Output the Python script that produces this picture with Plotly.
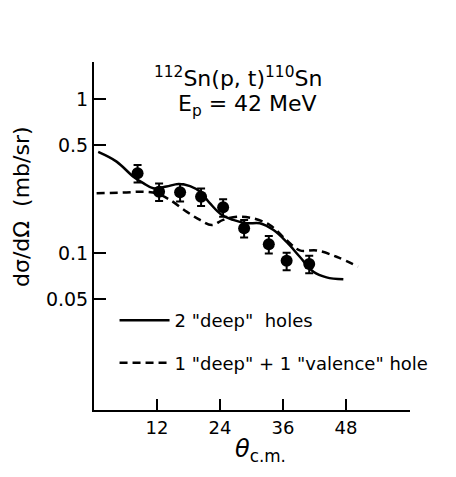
import plotly.graph_objects as go

# data points (theta c.m. in degrees, dsigma/dOmega in mb/sr)
exp_theta = [8.3, 12.4, 16.4, 20.4, 24.6, 28.6, 33.3, 36.7, 41.0]
exp_xs = [0.33, 0.25, 0.248, 0.232, 0.198, 0.145, 0.114, 0.089, 0.085]
exp_err_pct = 13

# solid curve: 2 "deep" holes
solid_theta = [0.8, 4.3, 7.5, 9.4, 11.3, 13.8, 16.1, 18.3, 20.2, 22.1, 24.3, 26.5,
               29.1, 31.6, 34.2, 36.7, 39.2, 41.8, 44.3, 47.5]
solid_xs = [0.453, 0.392, 0.313, 0.284, 0.263, 0.270, 0.281, 0.272, 0.250, 0.210, 0.177, 0.164,
            0.156, 0.156, 0.141, 0.118, 0.0946, 0.0756, 0.0695, 0.0675]

# dashed curve: 1 "deep" + 1 "valence" hole
dash_theta = [0.5, 5.6, 9.4, 11.9, 14.5, 17.7, 20.2, 22.4, 24.6, 27.2, 30.3, 33.5,
              36.7, 39.2, 42.4, 46.2, 50.3]
dash_xs = [0.244, 0.247, 0.250, 0.244, 0.221, 0.185, 0.164, 0.152, 0.164, 0.172, 0.168, 0.152,
           0.121, 0.104, 0.104, 0.0946, 0.0815]

x_ticks = [12, 24, 36, 48]
y_ticks = [1, 0.5, 0.1, 0.05]
y_ticktext = ["1", "0.5", "0.1", "0.05"]

FONT = "DejaVu Sans"

fig = go.Figure()
fig.add_trace(go.Scatter(
    x=solid_theta, y=solid_xs, mode="lines", line=dict(color="black", width=2.5, shape="spline"),
    name='2 "deep"  holes', legendgroup="a"))
fig.add_trace(go.Scatter(
    x=dash_theta, y=dash_xs, mode="lines",
    line=dict(color="black", width=2.5, dash="8px,5px", shape="spline"),
    name='1 "deep" + 1 "valence" hole', legendgroup="b"))
fig.add_trace(go.Scatter(
    x=exp_theta, y=exp_xs, mode="markers",
    marker=dict(color="black", size=12),
    error_y=dict(type="percent", value=exp_err_pct, color="black", thickness=2, width=4),
    showlegend=False))

fig.update_layout(
    width=456, height=477,
    margin=dict(l=94, r=46, t=62, b=67),
    paper_bgcolor="white", plot_bgcolor="white",
    font=dict(family=FONT, color="black", size=18),
    showlegend=True,
    legend=dict(x=0.065, y=0.31, xanchor="left", yanchor="top", bgcolor="rgba(0,0,0,0)",
                font=dict(size=18, family=FONT), tracegroupgap=16, itemwidth=50),
    xaxis=dict(range=[0, 60.2], showline=True, linecolor="black", linewidth=2,
               ticks="inside", ticklen=11, tickwidth=2, tickcolor="black",
               tickvals=x_ticks, showgrid=False, zeroline=False,
               tickfont=dict(size=18, family=FONT)),
    yaxis=dict(type="log", range=[-2.019, 0.240], showline=True, linecolor="black", linewidth=2,
               ticks="inside", ticklen=12, tickwidth=2, tickcolor="black",
               tickvals=y_ticks, ticktext=y_ticktext, showgrid=False, zeroline=False,
               tickfont=dict(size=19, family=FONT)),
    annotations=[
        dict(text="<sup>112</sup>Sn(p, t)<sup>110</sup>Sn", xref="paper", yref="paper",
             x=(238 - 94) / 316, y=(410 - 77) / 348, showarrow=False,
             font=dict(size=22, family=FONT), xanchor="center", yanchor="middle"),
        dict(text="E<sub>p</sub> = 42 MeV", xref="paper", yref="paper",
             x=(247 - 94) / 316, y=(410 - 106) / 348, showarrow=False,
             font=dict(size=22, family=FONT), xanchor="center", yanchor="middle"),
        dict(text="dσ/dΩ  (mb/sr)", xref="paper", yref="paper",
             x=(21 - 94) / 316, y=(410 - 207) / 348, showarrow=False, textangle=-90,
             font=dict(size=22, family=FONT), xanchor="center", yanchor="middle"),
        dict(text="<i>θ</i><sub>c.m.</sub>", xref="paper", yref="paper",
             x=(260 - 94) / 316, y=(410 - 450) / 348, showarrow=False,
             font=dict(size=24, family=FONT), xanchor="center", yanchor="middle"),
    ],
)

fig.write_html("out.html")
